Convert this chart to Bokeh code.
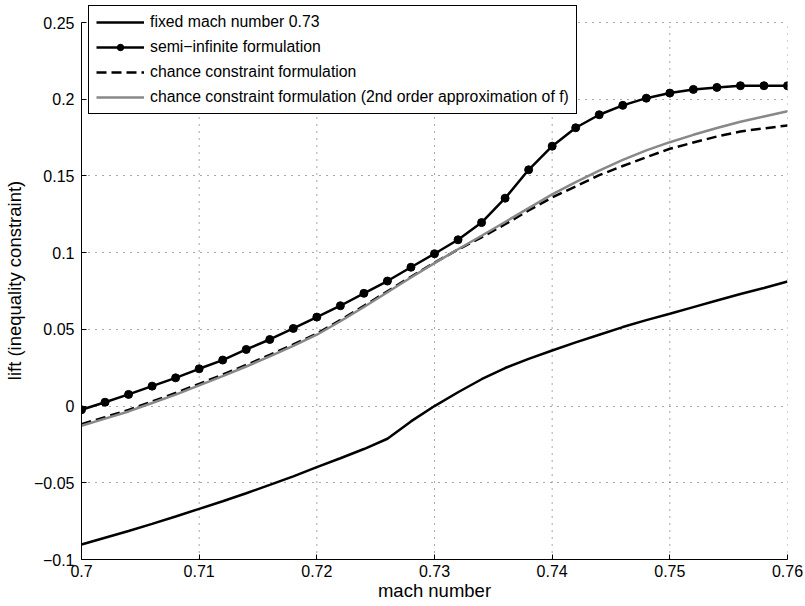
from bokeh.plotting import figure
from bokeh.models import Range1d, FixedTicker, Legend, LegendItem
from bokeh.embed import file_html
from bokeh.resources import INLINE

mach = [0.700, 0.702, 0.704, 0.706, 0.708, 0.710, 0.712, 0.714, 0.716, 0.718,
        0.720, 0.722, 0.724, 0.726, 0.728, 0.730, 0.732, 0.734, 0.736, 0.738,
        0.740, 0.742, 0.744, 0.746, 0.748, 0.750, 0.752, 0.754, 0.756, 0.758, 0.760]

fixed_mach = [-0.0902, -0.0858, -0.0814, -0.0768, -0.0720, -0.0670, -0.0620, -0.0568,
              -0.0514, -0.0458, -0.0398, -0.0340, -0.0280, -0.0213, -0.0100, 0.0000,
              0.0090, 0.0175, 0.0248, 0.0308, 0.0362, 0.0415, 0.0465, 0.0515, 0.0560,
              0.0602, 0.0645, 0.0688, 0.0730, 0.0770, 0.0812]

semi_infinite = [-0.0024, 0.0025, 0.0076, 0.0130, 0.0184, 0.0243, 0.0300, 0.0369,
                 0.0434, 0.0506, 0.0580, 0.0654, 0.0735, 0.0815, 0.0905, 0.0993,
                 0.1084, 0.1196, 0.1355, 0.1540, 0.1694, 0.1814, 0.1899, 0.1960,
                 0.2007, 0.2040, 0.2064, 0.2077, 0.2088, 0.2088, 0.2088]

chance = [-0.0118, -0.0072, -0.0025, 0.0030, 0.0085, 0.0145, 0.0205, 0.0268,
          0.0334, 0.0402, 0.0472, 0.0560, 0.0653, 0.0748, 0.0843, 0.0935,
          0.1020, 0.1100, 0.1185, 0.1275, 0.1360, 0.1432, 0.1505, 0.1565,
          0.1622, 0.1677, 0.1718, 0.1757, 0.1790, 0.1810, 0.1829]

chance_2nd = [-0.0128, -0.0082, -0.0035, 0.0020, 0.0075, 0.0135, 0.0195, 0.0258,
              0.0324, 0.0393, 0.0465, 0.0553, 0.0646, 0.0742, 0.0838, 0.0932,
              0.1022, 0.1110, 0.1200, 0.1290, 0.1380, 0.1460, 0.1535, 0.1605,
              0.1667, 0.1720, 0.1768, 0.1812, 0.1853, 0.1888, 0.1922]

x_ticks = [0.70, 0.71, 0.72, 0.73, 0.74, 0.75, 0.76]
x_tick_labels = ["0.7", "0.71", "0.72", "0.73", "0.74", "0.75", "0.76"]
y_ticks = [-0.10, -0.05, 0.0, 0.05, 0.10, 0.15, 0.20, 0.25]
y_tick_labels = ["\u22120.1", "\u22120.05", "0", "0.05", "0.1", "0.15", "0.2", "0.25"]

legend_labels = ["fixed mach number 0.73",
                 "semi\u2212infinite formulation",
                 "chance constraint formulation",
                 "chance constraint formulation (2nd order approximation of f)"]

FONT = "Liberation Sans"

# y range top a little above 0.25 so that the legend box (which sits above the
# last tick in the reference) is not clipped; the axis itself stops at 0.25
p = figure(width=805, height=606, output_backend="svg", toolbar_location=None,
           x_range=Range1d(0.70, 0.76), y_range=Range1d(-0.10, 0.2637),
           min_border_left=81, min_border_right=18, min_border_top=1,
           min_border_bottom=47)
p.outline_line_color = None
p.background_fill_color = "white"
p.border_fill_color = "white"

p.xaxis.ticker = FixedTicker(ticks=x_ticks)
p.yaxis.ticker = FixedTicker(ticks=y_ticks)
p.xaxis.major_label_overrides = {t: l for t, l in zip(x_ticks, x_tick_labels)}
p.yaxis.major_label_overrides = {t: l for t, l in zip(y_ticks, y_tick_labels)}
p.yaxis.bounds = (y_ticks[0], y_ticks[-1])

for ax in (p.xaxis[0], p.yaxis[0]):
    ax.axis_line_color = "black"
    ax.axis_line_width = 1
    ax.major_tick_in = 5
    ax.major_tick_out = 0
    ax.minor_tick_line_color = None
    ax.major_tick_line_color = "black"
    ax.major_label_text_font = FONT
    ax.major_label_text_font_size = "16px"
    ax.major_label_text_color = "black"
    ax.axis_label_text_font = FONT
    ax.axis_label_text_font_style = "normal"
    ax.axis_label_text_color = "black"
    ax.axis_label_text_font_size = "18.5px"

p.xaxis.axis_label = "mach number"
p.yaxis.axis_label = "lift (inequality constraint)"
p.xaxis.major_label_standoff = 5
p.xaxis.axis_label_standoff = 0
p.yaxis.major_label_standoff = 7
p.yaxis.axis_label_standoff = 6

# horizontal grid from the axis ticker
p.ygrid.grid_line_color = "#333333"
p.ygrid.grid_line_alpha = 0.85
p.ygrid.grid_line_dash = "1 6"
p.ygrid.grid_line_width = 1
# vertical grid lines stop at the last y tick, as in the reference
p.xgrid.grid_line_color = None
p.segment(x0=x_ticks, y0=[y_ticks[0]] * len(x_ticks),
          x1=x_ticks, y1=[y_ticks[-1]] * len(x_ticks),
          line_color="#333333", line_alpha=0.85, line_dash="1 6", line_width=1)

r_fixed = p.line(mach, fixed_mach, line_color="black", line_width=2.5)
r_semi_l = p.line(mach, semi_infinite, line_color="black", line_width=2.5)
r_semi_m = p.scatter(mach, semi_infinite, marker="circle", size=8,
                     fill_color="black", line_color="black")
r_chance = p.line(mach, chance, line_color="black", line_width=2.5, line_dash="10 5")
r_grey = p.line(mach, chance_2nd, line_color="#888888", line_width=2.5)

legend = Legend(items=[
    LegendItem(label=legend_labels[0], renderers=[r_fixed]),
    LegendItem(label=legend_labels[1], renderers=[r_semi_l, r_semi_m]),
    LegendItem(label=legend_labels[2], renderers=[r_chance]),
    LegendItem(label=legend_labels[3], renderers=[r_grey]),
], location=(7, 445))
legend.border_line_color = "black"
legend.border_line_alpha = 1
legend.border_line_width = 1
legend.background_fill_color = "white"
legend.background_fill_alpha = 1
legend.label_text_font = FONT
legend.label_text_font_size = "15.8px"
legend.label_text_color = "black"
legend.glyph_width = 48
legend.glyph_height = 16
legend.label_height = 16
legend.label_standoff = 6
legend.spacing = 7
legend.padding = 7
legend.margin = 0
p.add_layout(legend, "center")

open("out.html", "w").write(file_html(p, INLINE))
